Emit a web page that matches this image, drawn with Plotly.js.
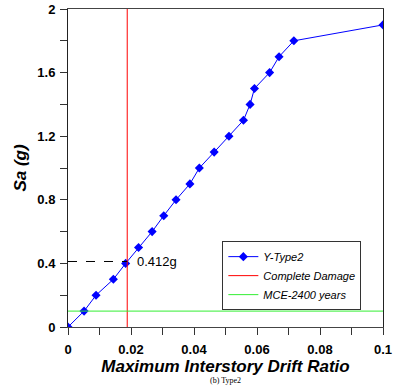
<!DOCTYPE html>
<html>
<head>
<meta charset="utf-8">
<script src="https://cdn.plot.ly/plotly-3.0.1.min.js"></script>
<style>html,body{margin:0;padding:0;background:#fff;}#chart{width:395px;height:387px;}</style>
</head>
<body>
<div id="chart"></div>
<script>
// Data
const driftRatio = [0, 0.0051, 0.0089, 0.0144, 0.0183, 0.0224, 0.0267, 0.0304, 0.0343, 0.0387, 0.0417, 0.0464, 0.0511, 0.0557, 0.0578, 0.0592, 0.064, 0.067, 0.0717, 0.1];
const saValues   = [0, 0.1, 0.2, 0.3, 0.4, 0.5, 0.6, 0.7, 0.8, 0.9, 1.0, 1.1, 1.2, 1.3, 1.4, 1.5, 1.6, 1.7, 1.8, 1.9];
const completeDamageDrift = 0.0188;
const completeDamageSa = 0.412;
const mceSa = 0.1;
const xTickVals = [0, 0.02, 0.04, 0.06, 0.08, 0.1];
const xTickText = ["0", "0.02", "0.04", "0.06", "0.08", "0.1"];
const yTickVals = [0, 0.4, 0.8, 1.2, 1.6, 2];
const yTickText = ["0", "0.4", "0.8", "1.2", "1.6", "2"];

const FONT = "'Liberation Sans', Arial, sans-serif";

const traces = [
  {
    x: driftRatio, y: saValues, type: 'scatter', mode: 'lines+markers',
    name: 'Y-Type2',
    line: {color: '#0000ff', width: 1},
    marker: {symbol: 'diamond', size: 7, color: '#0000ff'}
  },
  {
    x: [completeDamageDrift, completeDamageDrift], y: [0, 2], type: 'scatter', mode: 'lines',
    name: 'Complete Damage',
    line: {color: '#ff0000', width: 1}
  },
  {
    x: [0, 0.1], y: [mceSa, mceSa], type: 'scatter', mode: 'lines',
    name: 'MCE-2400 years',
    line: {color: '#33ee33', width: 1}
  },
  {
    x: [0, completeDamageDrift], y: [completeDamageSa, completeDamageSa], type: 'scatter', mode: 'lines',
    showlegend: false, hoverinfo: 'skip',
    line: {color: '#000000', width: 1, dash: 'dash'}
  }
];

const layout = {
  width: 395, height: 387,
  margin: {l: 68, r: 12, t: 9, b: 60},
  paper_bgcolor: '#ffffff', plot_bgcolor: '#ffffff',
  showlegend: true,
  font: {family: FONT, color: '#000'},
  xaxis: {
    range: [0, 0.1], tickvals: xTickVals, ticktext: xTickText,
    ticks: 'outside', ticklen: 7, tickcolor: '#333', tickwidth: 1,
    ticklabelstandoff: 3,
    minor: {dtick: 0.01, ticks: 'outside', ticklen: 7, tickcolor: '#333', tickwidth: 1},
    showline: true, linecolor: '#444', linewidth: 1, mirror: true,
    showgrid: false, zeroline: false,
    tickfont: {family: FONT, size: 13, weight: 'bold'},
    title: {text: 'Maximum Interstory Drift Ratio', font: {family: FONT, size: 17, weight: 'bold', style: 'italic'}, standoff: 0},
    automargin: false
  },
  yaxis: {
    range: [0, 2], tickvals: yTickVals, ticktext: yTickText,
    ticks: 'outside', ticklen: 7, tickcolor: '#333', tickwidth: 1,
    ticklabelstandoff: 2,
    minor: {dtick: 0.2, ticks: 'outside', ticklen: 7, tickcolor: '#333', tickwidth: 1},
    showline: true, linecolor: '#222', linewidth: 1, mirror: true,
    showgrid: false, zeroline: false,
    tickfont: {family: FONT, size: 13, weight: 'bold'},
    title: {text: 'Sa (g)', font: {family: FONT, size: 17, weight: 'bold', style: 'italic'}, standoff: 6},
    automargin: false
  },
  legend: {
    x: 0.49, y: 0.27, xanchor: 'left', yanchor: 'top',
    bordercolor: '#333', borderwidth: 1, bgcolor: '#ffffff',
    font: {family: FONT, size: 11, style: 'italic', color: '#000'},
    tracegroupgap: 0, itemwidth: 30
  },
  annotations: [
    {x: 0.0213, y: completeDamageSa, xref: 'x', yref: 'y', text: '0.412g', showarrow: false,
     xanchor: 'left', yanchor: 'middle', font: {family: FONT, size: 13, color: '#000'}},
    {x: 0.5, y: 0, xref: 'paper', yref: 'paper', yshift: -59.5, text: '(b) Type2', showarrow: false,
     xanchor: 'center', yanchor: 'bottom', font: {family: "'Liberation Serif', 'Times New Roman', serif", size: 8, color: '#000'}}
  ]
};

Plotly.newPlot('chart', traces, layout, {displayModeBar: false, staticPlot: true});
</script>
</body>
</html>
